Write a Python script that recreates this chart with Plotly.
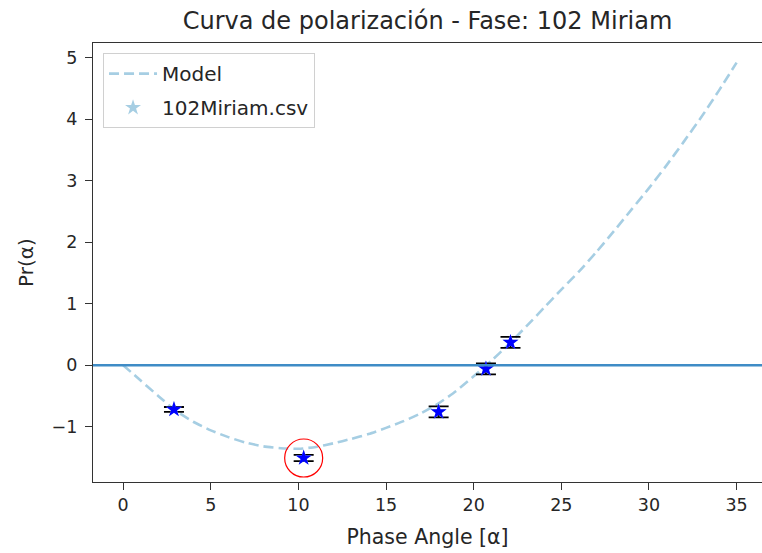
import plotly.graph_objects as go

# Model curve
x_model = [0, 1, 2, 3, 4, 5, 6, 7, 8, 9, 10, 11, 12, 13, 14, 15, 16, 17, 18, 19, 20,
           21, 22, 23, 24, 25, 26, 27, 28, 29, 30, 31, 32, 33, 34, 35]
y_model = [0.0, -0.25, -0.50, -0.74, -0.92, -1.06, -1.17, -1.26, -1.32, -1.35, -1.36,
           -1.33, -1.27, -1.20, -1.12, -1.02, -0.91, -0.78, -0.62, -0.42, -0.18,
           0.07, 0.34, 0.63, 0.93, 1.23, 1.52, 1.84, 2.18, 2.53, 2.88, 3.25, 3.64,
           4.04, 4.47, 4.92]

# Observations
x_obs = [2.9, 10.3, 18.0, 20.7, 22.1]
y_obs = [-0.72, -1.51, -0.76, -0.06, 0.37]
err_obs = [0.04, 0.05, 0.09, 0.09, 0.09]

xticks = [0, 5, 10, 15, 20, 25, 30, 35]
yticks = [-1, 0, 1, 2, 3, 4, 5]

MODEL_C = "#a6cee3"
FONT = "DejaVu Sans"

fig = go.Figure()

fig.add_trace(go.Scatter(
    x=x_model, y=y_model, mode="lines", name="Model",
    line=dict(color=MODEL_C, width=2.6, dash="10px,5px", shape="spline", smoothing=0.6),
    legendgroup="a",
))

fig.add_trace(go.Scatter(
    x=x_obs, y=y_obs, mode="markers", name="102Miriam.csv",
    marker=dict(symbol="star", color=MODEL_C, size=12),
    error_y=dict(type="data", array=err_obs, color="black", thickness=1.8, width=10),
    legendgroup="b",
))

fig.add_trace(go.Scatter(
    x=x_obs, y=y_obs, mode="markers", showlegend=False,
    marker=dict(symbol="star", color="blue", size=12),
))

# Highlight minimum observation
imin = y_obs.index(min(y_obs))
fig.add_trace(go.Scatter(
    x=[x_obs[imin]], y=[y_obs[imin]], mode="markers", showlegend=False,
    marker=dict(symbol="circle-open", color="red", size=38, line=dict(width=1.2, color="red")),
))

fig.add_shape(type="line", xref="paper", x0=0, x1=1, yref="y", y0=0, y1=0,
              line=dict(color="#3f8cc6", width=2.6), layer="above")

fig.update_layout(
    width=762, height=553,
    margin=dict(l=93, r=0, t=43, b=71),
    paper_bgcolor="white", plot_bgcolor="white",
    font=dict(family=FONT, size=17.5, color="#262626"),
    title=dict(text="Curva de polarización - Fase: 102 Miriam", xref="paper",
               x=0.5, xanchor="center", yref="container", y=0.962, yanchor="middle",
               font=dict(size=24, family=FONT, color="#262626")),
    showlegend=True,
    legend=dict(x=0.015, y=0.977, xanchor="left", yanchor="top",
                bgcolor="white", bordercolor="#d0d0d0", borderwidth=1,
                font=dict(size=20, family=FONT), tracegroupgap=5, itemwidth=48),
    xaxis=dict(range=[-1.72, 36.45], tickvals=xticks, ticks="outside", ticklen=7,
               tickcolor="#333", showline=True, linecolor="#333", linewidth=1.3,
               mirror=True, showgrid=False, zeroline=False,
               tickfont=dict(size=17.5),
               title=dict(text="Phase Angle [α]", standoff=15, font=dict(size=20.5))),
    yaxis=dict(range=[-1.9, 5.24], tickvals=yticks, ticks="outside", ticklen=7,
               tickcolor="#333", showline=True, linecolor="#333", linewidth=1.3,
               showgrid=False, zeroline=False, ticklabelstandoff=4,
               tickfont=dict(size=17.5),
               title=dict(text="Pr(α)", standoff=12, font=dict(size=20))),
)

fig.write_html("out.html")
